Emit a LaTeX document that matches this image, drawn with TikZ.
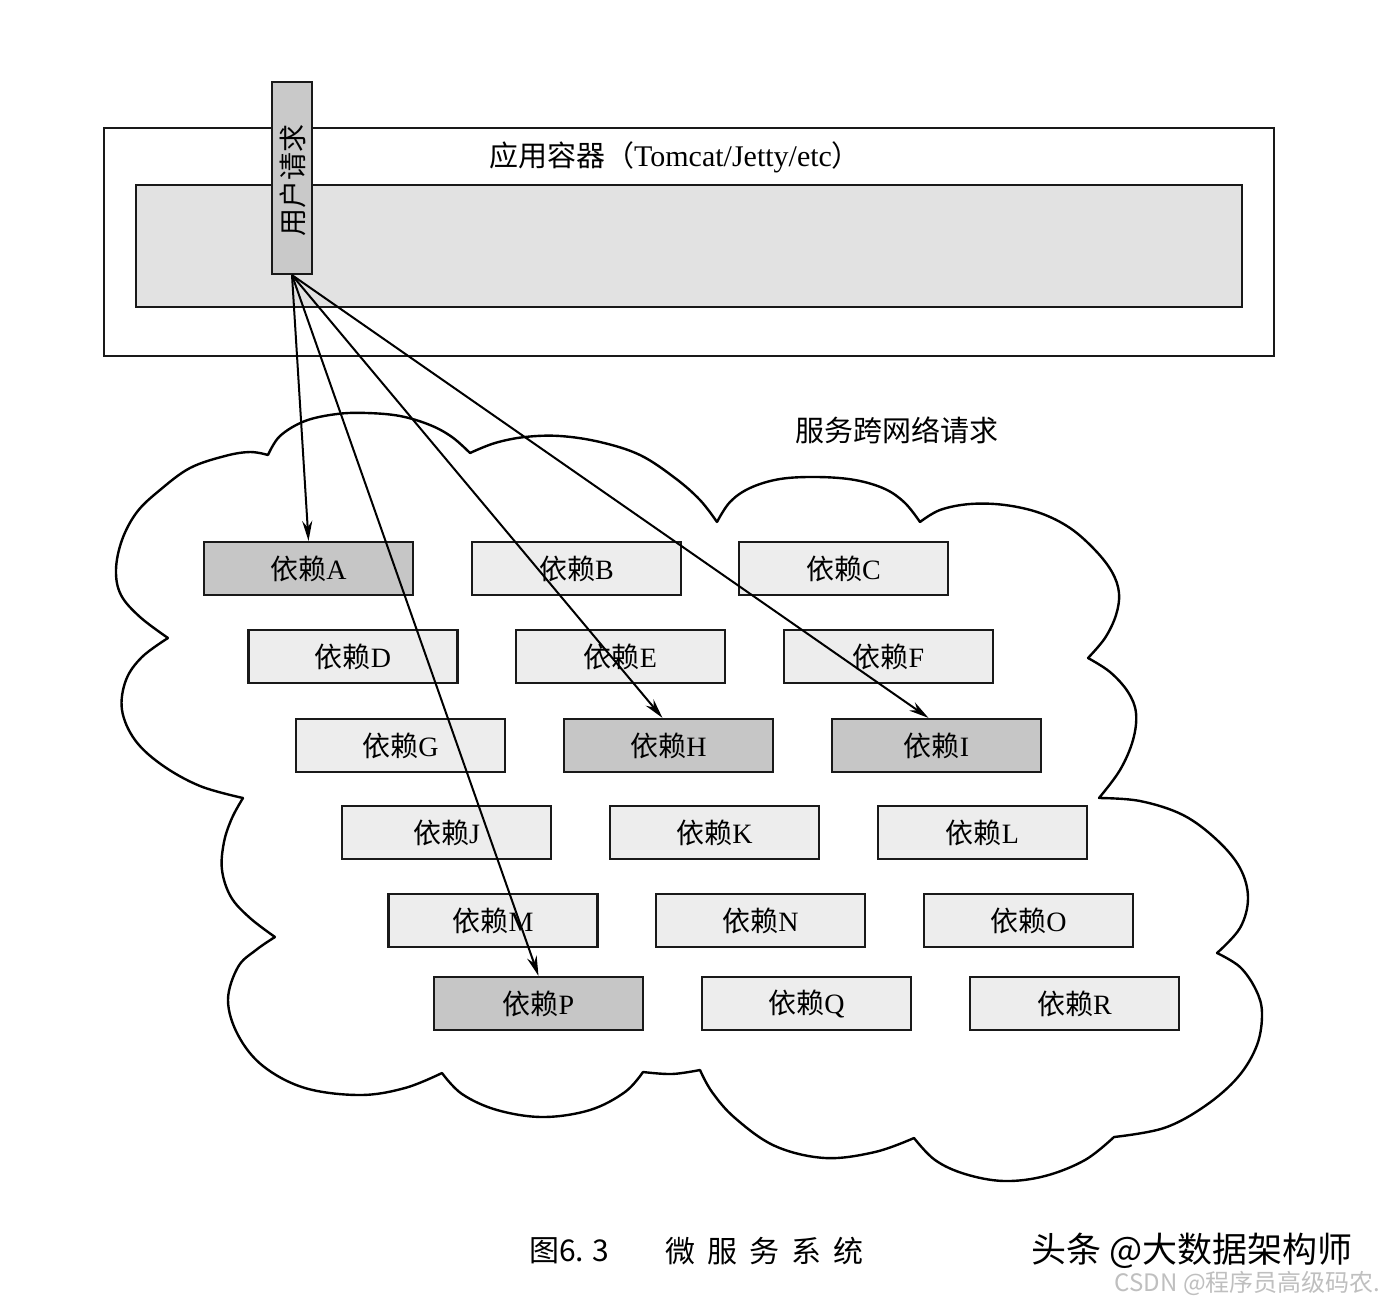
\documentclass[tikz,border=0pt]{standalone}
\usepackage{fontspec}
\setmainfont{Liberation Serif}
\newfontfamily\cjk{Noto Sans CJK SC}
\usetikzlibrary{arrows.meta}
\begin{document}
\begin{tikzpicture}[x=1pt,y=-1pt,
  frame/.style={draw=black!90, line width=2.2pt, inner sep=0pt},
  dep/.style={frame, minimum width=209pt, minimum height=53pt, font=\fontsize{28}{30}\selectfont},
  hot/.style={dep, fill=gray!45},
  cold/.style={dep, fill=gray!14},
  arr/.style={line width=2pt, -{Stealth[length=20pt,width=10pt]}},
  cloudline/.style={line width=2.4pt, line join=round, line cap=round},
  bump/.style={smooth, tension=0.6}
]
\fill[white] (0,0) rectangle (1384,1302);
\useasboundingbox (0,0) rectangle (1384,1302);

% container
\node[frame, minimum width=1170pt, minimum height=228pt] (container) at (689,242) {};
\node[frame, fill=gray!23, minimum width=1106pt, minimum height=122pt] (pool) at (689,246) {};
\node[font=\fontsize{30}{32}\selectfont] (title) at (675,157) {{\cjk\fontsize{29}{31}\selectfont 应用容器（}Tomcat/Jetty/etc{\cjk\fontsize{29}{31}\selectfont ）}};

% user request
\node[frame, fill=gray!42, minimum width=40pt, minimum height=192pt] (user) at (292,178) {};
\node[rotate=90, font=\cjk\fontsize{28}{30}\selectfont] (userlabel) at (293,180) {用户请求};

% cloud
\draw[cloudline]
  plot[bump] coordinates {(268,455) (280,436) (305,421) (337,414) (367,413) (400,416) (430,425) (452,437) (470,453)}
  plot[bump] coordinates {(470,453) (495,443) (525,437) (560,436) (600,442) (640,455) (675,478) (700,500) (717,522)}
  plot[bump] coordinates {(717,522) (730,502) (750,488) (780,479) (818,477) (855,480) (885,489) (905,503) (920,522)}
  plot[bump] coordinates {(920,522) (940,510) (970,504) (1005,505) (1040,513) (1070,528) (1095,550) (1112,572) (1119,593) (1116,615) (1105,638) (1088,658)}
  plot[bump] coordinates {(1088,658) (1110,672) (1128,692) (1136,713) (1133,740) (1120,770) (1099,798)}
  plot[bump] coordinates {(1099,798) (1140,801) (1183,815) (1217,840) (1240,868) (1248,898) (1240,928) (1217,953)}
  plot[bump] coordinates {(1217,953) (1240,967) (1256,990) (1262,1013) (1257,1045) (1238,1077) (1205,1106) (1164,1128) (1114,1137)}
  plot[bump] coordinates {(1114,1137) (1085,1160) (1045,1176) (1004,1181) (965,1174) (935,1160) (914,1138)}
  plot[bump] coordinates {(914,1138) (875,1152) (825,1158) (775,1146) (735,1118) (712,1092) (700,1070)}
  plot[bump] coordinates {(700,1070) (672,1074) (643,1072)}
  plot[bump] coordinates {(643,1072) (625,1092) (590,1110) (543,1117) (497,1110) (462,1094) (442,1073)}
  plot[bump] coordinates {(442,1073) (405,1088) (360,1095) (305,1088) (263,1066) (238,1035) (228,1000) (238,967) (256,950) (275,937)}
  plot[bump] coordinates {(275,937) (250,918) (231,897) (222,870) (224,842) (232,818) (243,798)}
  plot[bump] coordinates {(243,798) (200,786) (162,765) (135,740) (122,710) (126,680) (142,657) (168,638)}
  plot[bump] coordinates {(168,638) (140,617) (121,595) (116,570) (122,540) (137,512) (160,490) (190,468) (225,456) (250,452) (268,455)};

\node[font=\cjk\fontsize{29}{31}\selectfont] (net) at (897,430) {服务跨网络请求};

% dependencies
\node[hot]  (A) at (308.5,568.5) {{\cjk 依赖}A};
\node[cold] (B) at (576.5,568.5) {{\cjk 依赖}B};
\node[cold] (C) at (843.5,568.5) {{\cjk 依赖}C};
\node[cold] (D) at (353,656.5) {{\cjk 依赖}D};
\node[cold] (E) at (620.5,656.5) {{\cjk 依赖}E};
\node[cold] (F) at (888.5,656.5) {{\cjk 依赖}F};
\node[cold] (G) at (400.5,745.5) {{\cjk 依赖}G};
\node[hot]  (H) at (668.5,745.5) {{\cjk 依赖}H};
\node[hot]  (I) at (936.5,745.5) {{\cjk 依赖}I};
\node[cold] (J) at (446.5,832.5) {{\cjk 依赖}J};
\node[cold] (K) at (714.5,832.5) {{\cjk 依赖}K};
\node[cold] (L) at (982.5,832.5) {{\cjk 依赖}L};
\node[cold] (M) at (493,920.5) {{\cjk 依赖}M};
\node[cold] (N) at (760.5,920.5) {{\cjk 依赖}N};
\node[cold] (O) at (1028.5,920.5) {{\cjk 依赖}O};
\node[hot]  (P) at (538.5,1003.5) {{\cjk 依赖}P};
\node[cold] (Q) at (806.5,1003.5) {{\cjk 依赖}Q};
\node[cold] (R) at (1074.5,1003.5) {{\cjk 依赖}R};

% requests
\draw[arr] (user.south) -- (A.north);
\draw[arr] (user.south) -- (P.north);
\draw[arr] (user.south) -- ([xshift=-6pt]H.north);
\draw[arr] (user.south) -- ([xshift=-8pt]I.north);

% caption and marks
\node[font=\cjk\fontsize{30}{32}\selectfont] (cap) at (569,1251) {图6.\hspace{8pt}3};
\node[font=\cjk\fontsize{30}{32}\selectfont] (capname) at (764,1251) {微\hspace{12pt}服\hspace{12pt}务\hspace{12pt}系\hspace{12pt}统};
\node[font=\cjk\fontsize{35}{37}\selectfont, anchor=west] (mark) at (1028,1251) {头条 @大数据架构师};
\node[font=\cjk\fontsize{24}{26}\selectfont, text=gray!50, anchor=east] (csdn) at (1384,1283) {CSDN @程序员高级码农.};
\end{tikzpicture}
\end{document}
